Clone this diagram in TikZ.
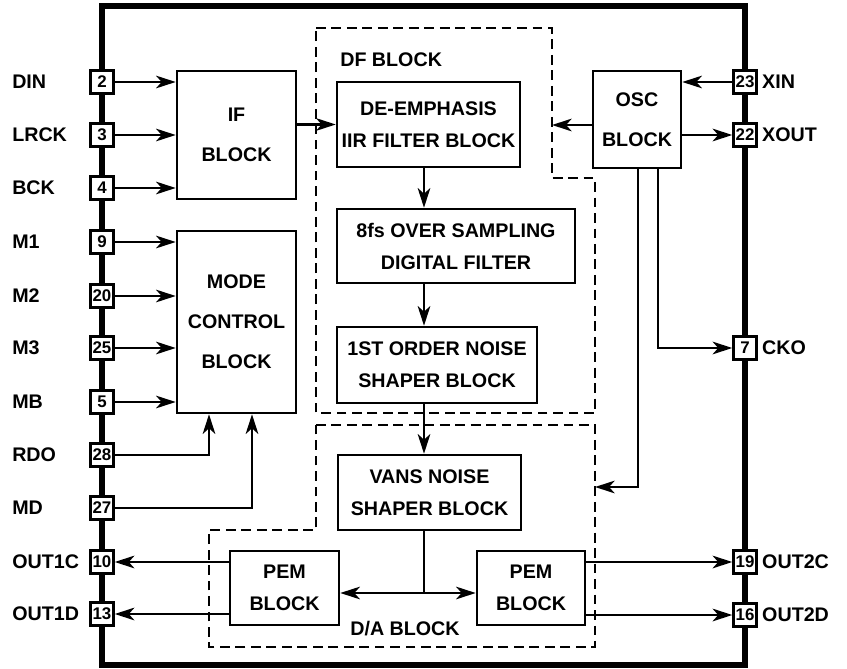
\documentclass[tikz,border=0pt]{standalone}
\usepackage{fontspec}
\setmainfont{Liberation Sans}
\usetikzlibrary{arrows.meta, positioning}

\begin{document}
\begin{tikzpicture}[
    x=0.025cm, y=-0.025cm,
    every node/.style={font=\fontsize{14}{17}\selectfont\bfseries},
    blk/.style={draw, line width=1.8pt, align=center, inner sep=0pt, font=\fontsize{14}{22.8}\selectfont\bfseries},
    tallblk/.style={blk, font=\fontsize{14}{28.5}\selectfont\bfseries},
    pinbox/.style={draw, fill=white, line width=1.6pt, minimum size=0.58cm, inner sep=0pt, font=\fontsize{12}{12}\selectfont\bfseries},
    lbl/.style={inner sep=0pt},
    wire/.style={line width=1.5pt},
    arr/.style={wire, -{Stealth[length=14pt,width=9pt,inset=4pt]}},
    dbl/.style={wire, {Stealth[length=14pt,width=9pt,inset=4pt]}-{Stealth[length=14pt,width=9pt,inset=4pt]}},
    dashblk/.style={line width=1.8pt, dash pattern=on 7pt off 4pt},
    chip/.style={line width=4.2pt}
]
\useasboundingbox (0,0) rectangle (847,669);

% Chip outline
\draw[chip] (102,6) rectangle (745,665);

% DF block and D/A block outlines
\draw[dashblk] (316,28) -- (552,28) -- (552,178) -- (595,178) -- (595,413) -- (316,413) -- cycle;
\draw[dashblk] (316,425) -- (595,425) -- (595,647) -- (209,647) -- (209,530) -- (316,530) -- cycle;
\node[lbl, anchor=west] (dflbl) at (340,60) {DF BLOCK};
\node[lbl] (dalbl) at (405,629) {D/A BLOCK};

% Blocks
\node[tallblk, minimum width=2.975cm, minimum height=3.2cm] (ifb) at (236.5,135) {IF\\BLOCK};
\node[tallblk, minimum width=2.975cm, minimum height=4.55cm] (mode) at (236.5,322) {MODE\\CONTROL\\BLOCK};
\node[blk, minimum width=4.575cm, minimum height=2.125cm] (deemph) at (428.5,124.5) {DE-EMPHASIS\\IIR FILTER BLOCK};
\node[blk, minimum width=5.95cm, minimum height=1.85cm] (fs8) at (456,246) {8fs OVER SAMPLING\\DIGITAL FILTER};
\node[blk, minimum width=5cm, minimum height=1.9cm] (nsone) at (437,365) {1ST ORDER NOISE\\SHAPER BLOCK};
\node[tallblk, minimum width=2.2cm, minimum height=2.425cm] (osc) at (637,119.5) {OSC\\BLOCK};
\node[blk, minimum width=4.575cm, minimum height=1.875cm] (vans) at (429.5,492.5) {VANS NOISE\\SHAPER BLOCK};
\node[blk, minimum width=2.725cm, minimum height=1.85cm] (peml) at (284.5,588) {PEM\\BLOCK};
\node[blk, minimum width=2.7cm, minimum height=1.85cm] (pemr) at (531,588) {PEM\\BLOCK};

% Left pins
\node[pinbox] (p2) at (102,82) {2};
\node[pinbox] (p3) at (102,135) {3};
\node[pinbox] (p4) at (102,188) {4};
\node[pinbox] (p9) at (102,242) {9};
\node[pinbox] (p20) at (102,296) {20};
\node[pinbox] (p25) at (102,348) {25};
\node[pinbox] (p5) at (102,402) {5};
\node[pinbox] (p28) at (102,455) {28};
\node[pinbox] (p27) at (102,508) {27};
\node[pinbox] (p10) at (102,562) {10};
\node[pinbox] (p13) at (102,614) {13};

% Right pins
\node[pinbox] (p23) at (745,82) {23};
\node[pinbox] (p22) at (745,135) {22};
\node[pinbox] (p7) at (745,348) {7};
\node[pinbox] (p19) at (745,562) {19};
\node[pinbox] (p16) at (745,615) {16};

% Pin labels
\node[lbl, anchor=west] (tdin) at (12,82) {DIN};
\node[lbl, anchor=west] (tlrck) at (12,135) {LRCK};
\node[lbl, anchor=west] (tbck) at (12,188) {BCK};
\node[lbl, anchor=west] (tmone) at (12,242) {M1};
\node[lbl, anchor=west] (tmtwo) at (12,296) {M2};
\node[lbl, anchor=west] (tmthree) at (12,348) {M3};
\node[lbl, anchor=west] (tmb) at (12,402) {MB};
\node[lbl, anchor=west] (trdo) at (12,455) {RDO};
\node[lbl, anchor=west] (tmd) at (12,508) {MD};
\node[lbl, anchor=west] (toutlc) at (12,562) {OUT1C};
\node[lbl, anchor=west] (toutld) at (12,614) {OUT1D};
\node[lbl, right=3pt of p23] (txin) {XIN};
\node[lbl, right=3pt of p22] (txout) {XOUT};
\node[lbl, right=3pt of p7] (tcko) {CKO};
\node[lbl, right=3pt of p19] (touttc) {OUT2C};
\node[lbl, right=3pt of p16] (touttd) {OUT2D};

% Helper points
\coordinate (vx) at (424,0);
\coordinate (bus) at (424,593);
\coordinate (dfR) at (552,125);
\coordinate (daR) at (595,487);
\coordinate (oscA) at (638,487);
\coordinate (oscB) at (658,348);
\coordinate (rdoC) at (209,455);
\coordinate (mdC) at (252,508);

% Inputs to IF and mode control
\draw[arr] (p2) -- (p2 -| ifb.west);
\draw[arr] (p3) -- (p3 -| ifb.west);
\draw[arr] (p4) -- (p4 -| ifb.west);
\draw[arr] (p9) -- (p9 -| mode.west);
\draw[arr] (p20) -- (p20 -| mode.west);
\draw[arr] (p25) -- (p25 -| mode.west);
\draw[arr] (p5) -- (p5 -| mode.west);
\draw[arr] (p28) -- (rdoC) -- (rdoC |- mode.south);
\draw[arr] (p27) -- (mdC) -- (mdC |- mode.south);

% Signal chain
\draw[arr] (ifb.east |- deemph) -- (deemph.west);
\draw[arr] (deemph.south -| vx) -- (fs8.north -| vx);
\draw[arr] (fs8.south -| vx) -- (nsone.north -| vx);
\draw[arr] (nsone.south -| vx) -- (vans.north -| vx);
\draw[wire] (vans.south -| vx) -- (bus);
\draw[dbl] (peml.east |- bus) -- (pemr.west |- bus);

% Outputs
\draw[arr] (peml.west |- p10) -- (p10);
\draw[arr] (peml.west |- p13) -- (p13);
\draw[arr] (pemr.east |- p19) -- (p19);
\draw[arr] (pemr.east |- p16) -- (p16);

% Oscillator
\draw[arr] (p23) -- (p23 -| osc.east);
\draw[arr] (osc.east |- p22) -- (p22);
\draw[arr] (osc.west |- dfR) -- (dfR);
\draw[arr] (osc.south -| oscB) -- (oscB) -- (p7);
\draw[arr] (osc.south -| oscA) -- (oscA) -- (daR);

\end{tikzpicture}
\end{document}
